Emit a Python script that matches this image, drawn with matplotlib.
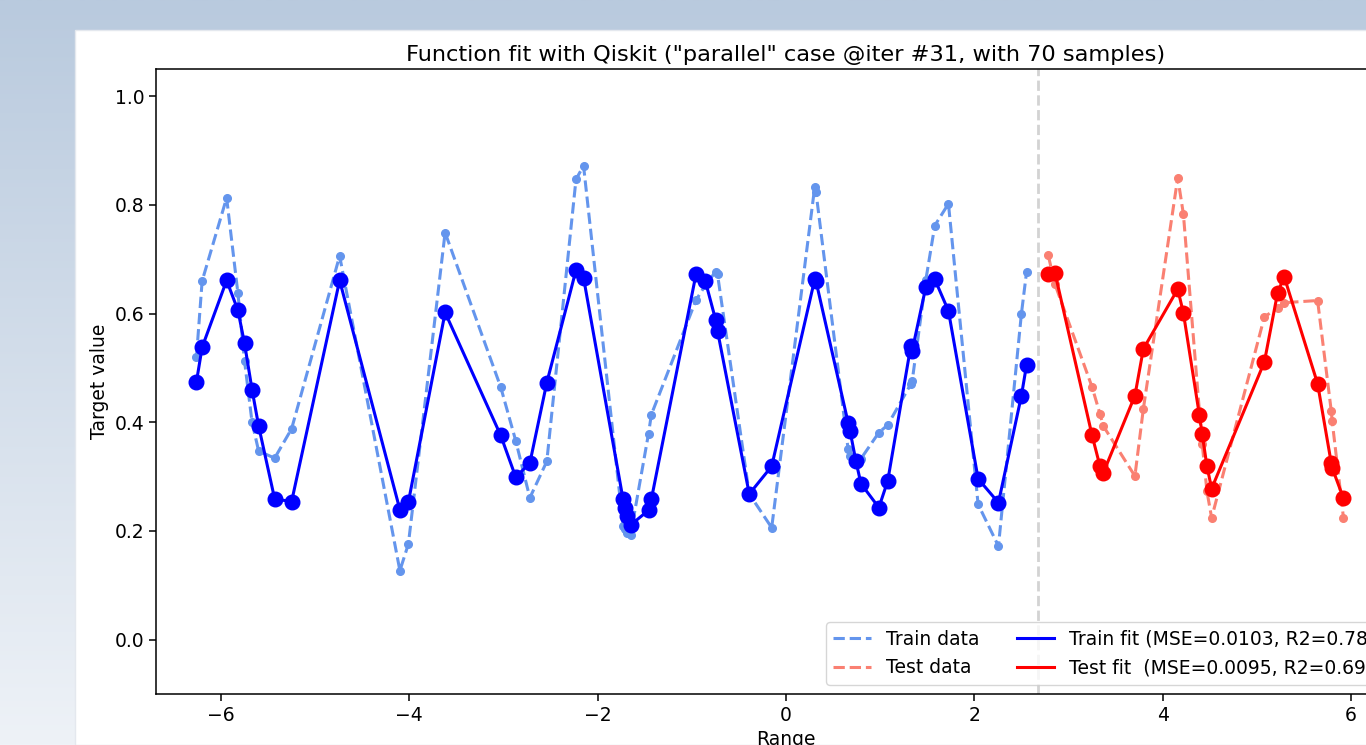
import numpy as np
import matplotlib
matplotlib.use('Agg')
import matplotlib.pyplot as plt
from matplotlib.colors import LinearSegmentedColormap
plt.rcParams.update({'font.size': 13.5, 'axes.linewidth': 1.1,
                     'xtick.major.width': 1.1, 'ytick.major.width': 1.1,
                     'xtick.major.size': 4.8, 'ytick.major.size': 4.8})

# train samples (x, target, model fit)
train_x = [-6.26, -6.20, -5.94, -5.82, -5.75, -5.67, -5.60, -5.43, -5.25, -4.74,
           -4.10, -4.01, -3.62, -3.03, -2.87, -2.72, -2.54, -2.23, -2.15, -1.73,
           -1.71, -1.69, -1.65, -1.46, -1.43, -0.955, -0.857, -0.748, -0.727, -0.39,
           -0.152, 0.305, 0.318, 0.66, 0.68, 0.743, 0.796, 0.986, 1.08, 1.325,
           1.34, 1.485, 1.58, 1.725, 2.04, 2.256, 2.50, 2.555]
train_y = [0.521, 0.660, 0.813, 0.637, 0.513, 0.400, 0.347, 0.334, 0.388, 0.706,
           0.127, 0.176, 0.749, 0.465, 0.366, 0.261, 0.328, 0.847, 0.872, 0.210,
           0.203, 0.197, 0.193, 0.379, 0.414, 0.625, 0.652, 0.677, 0.672, 0.268,
           0.206, 0.833, 0.824, 0.350, 0.338, 0.325, 0.333, 0.381, 0.395, 0.470,
           0.476, 0.662, 0.762, 0.802, 0.249, 0.172, 0.600, 0.677]
train_fit = [0.475, 0.538, 0.661, 0.606, 0.545, 0.460, 0.393, 0.259, 0.254, 0.661,
             0.239, 0.253, 0.602, 0.376, 0.299, 0.325, 0.473, 0.680, 0.666, 0.258,
             0.242, 0.227, 0.211, 0.238, 0.258, 0.673, 0.660, 0.589, 0.568, 0.268,
             0.319, 0.663, 0.660, 0.399, 0.384, 0.328, 0.287, 0.243, 0.292, 0.540,
             0.532, 0.649, 0.663, 0.605, 0.296, 0.252, 0.449, 0.506]

# test samples
test_x = [2.785, 2.856, 3.25, 3.333, 3.37, 3.705, 3.795, 4.16, 4.22, 4.39,
          4.42, 4.47, 4.52, 5.08, 5.22, 5.29, 5.645, 5.79, 5.80, 5.92]
test_y = [0.707, 0.654, 0.465, 0.416, 0.393, 0.301, 0.425, 0.850, 0.783, 0.420,
          0.360, 0.273, 0.224, 0.594, 0.610, 0.620, 0.624, 0.421, 0.402, 0.224]
test_fit = [0.673, 0.675, 0.376, 0.320, 0.307, 0.449, 0.535, 0.645, 0.601, 0.413,
            0.378, 0.319, 0.278, 0.511, 0.638, 0.668, 0.471, 0.325, 0.316, 0.260]

split_x = 2.675
train_label = 'Train fit (MSE=0.0103, R2=0.7812)'
test_label = 'Test fit  (MSE=0.0095, R2=0.6934)'
title = 'Function fit with Qiskit ("parallel" case @iter #31, with 70 samples)'

fig = plt.figure(figsize=(13.66, 7.45), dpi=100)

# slide background (light blue gradient) and white figure panel
bg = fig.add_axes([0, 0, 1, 1])
cmap = LinearSegmentedColormap.from_list('bg', ['#eef2f7', '#b9cade'])
bg.imshow(np.linspace(0, 1, 256).reshape(-1, 1), aspect='auto', cmap=cmap,
          origin='lower', extent=[0, 1, 0, 1])
bg.add_patch(plt.Rectangle((75 / 1366, 0), 1, 715 / 745, facecolor='white',
                           edgecolor='#e4e8ee', lw=1))
bg.set_xlim(0, 1)
bg.set_ylim(0, 1)
bg.axis('off')

ax = fig.add_axes([156 / 1366, 51 / 745, 1260 / 1366, 625 / 745])

ax.plot(train_x, train_y, '--', color='cornflowerblue', lw=2.2, label='Train data')
ax.plot(train_x, train_y, 'o', color='cornflowerblue', ms=5.5)
ax.plot(train_x, train_fit, '-', color='blue', lw=2.2, label=train_label)
ax.plot(train_x, train_fit, 'o', color='blue', ms=10.5)

ax.plot(test_x, test_y, '--', color='salmon', lw=2.2, label='Test data')
ax.plot(test_x, test_y, 'o', color='salmon', ms=5.5)
ax.plot(test_x, test_fit, '-', color='red', lw=2.2, label=test_label)
ax.plot(test_x, test_fit, 'o', color='red', ms=10.5)

ax.axvline(split_x, color='lightgray', ls='--', lw=2)

ax.set_xlim(-6.69, 6.69)
ax.set_ylim(-0.1, 1.05)
ax.set_xticks([-6, -4, -2, 0, 2, 4, 6])
ax.set_yticks([0.0, 0.2, 0.4, 0.6, 0.8, 1.0])
ax.set_xlabel('Range')
ax.set_ylabel('Target value')
ax.set_title(title)

h, l = ax.get_legend_handles_labels()
order = [0, 2, 1, 3]
ax.legend([h[i] for i in order], [l[i] for i in order], loc='lower right', ncol=2)

fig.savefig('out.png', dpi=100)
